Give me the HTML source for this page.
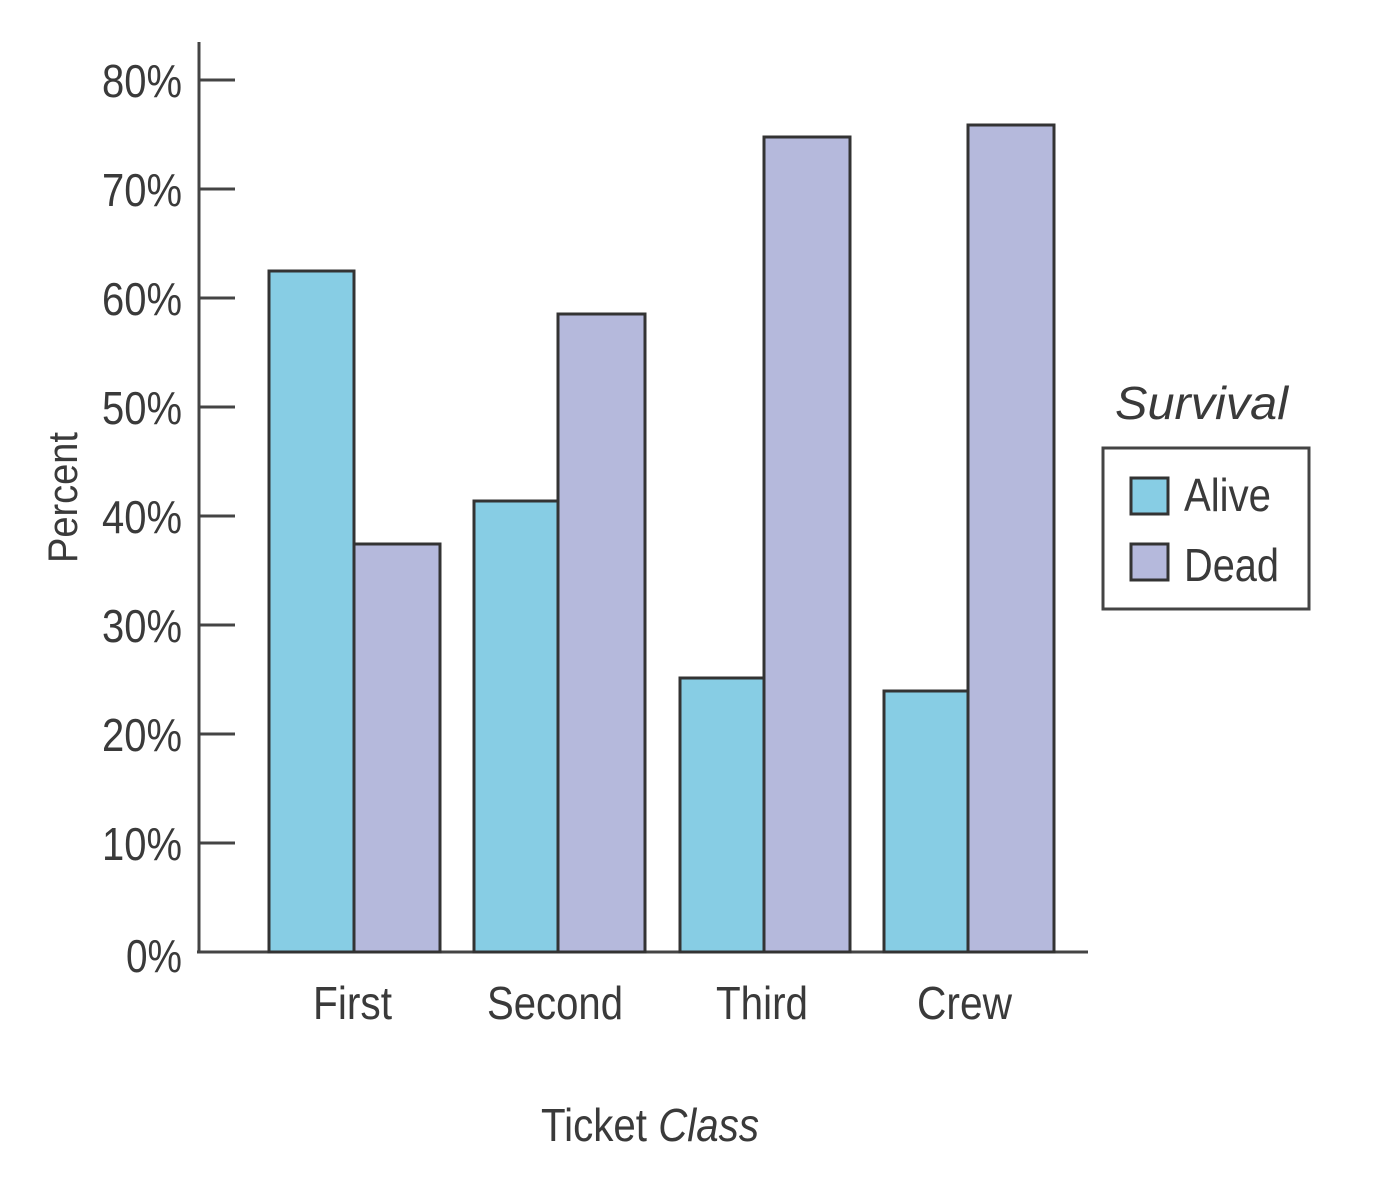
<!DOCTYPE html>
<html><head><style>body{margin:0;background:#fff}svg{display:block}</style></head><body>
<svg width="1376" height="1200" xmlns="http://www.w3.org/2000/svg" font-family="Liberation Sans, sans-serif" fill="#3a3a3a">
<g stroke="#444" stroke-width="3">
<line x1="199" y1="42" x2="199" y2="953"/>
<line x1="197" y1="952" x2="1088" y2="952"/>
<line x1="199" y1="80" x2="235" y2="80"/>
<line x1="199" y1="189" x2="235" y2="189"/>
<line x1="199" y1="298" x2="235" y2="298"/>
<line x1="199" y1="407" x2="235" y2="407"/>
<line x1="199" y1="516" x2="235" y2="516"/>
<line x1="199" y1="625" x2="235" y2="625"/>
<line x1="199" y1="734" x2="235" y2="734"/>
<line x1="199" y1="843" x2="235" y2="843"/>
</g>
<g stroke="#333" stroke-width="3">
<rect x="269" y="271" width="85" height="681" fill="#87cde4"/>
<rect x="354" y="544" width="86" height="408" fill="#b5b9dc"/>
<rect x="474" y="501" width="84" height="451" fill="#87cde4"/>
<rect x="558" y="314" width="87" height="638" fill="#b5b9dc"/>
<rect x="680" y="678" width="84" height="274" fill="#87cde4"/>
<rect x="764" y="137" width="86" height="815" fill="#b5b9dc"/>
<rect x="884" y="691" width="84" height="261" fill="#87cde4"/>
<rect x="968" y="125" width="86" height="827" fill="#b5b9dc"/>
</g>
<g font-size="46" text-anchor="end">
<text x="182" y="97" textLength="80" lengthAdjust="spacingAndGlyphs">80%</text>
<text x="182" y="206" textLength="80" lengthAdjust="spacingAndGlyphs">70%</text>
<text x="182" y="315" textLength="80" lengthAdjust="spacingAndGlyphs">60%</text>
<text x="182" y="424" textLength="80" lengthAdjust="spacingAndGlyphs">50%</text>
<text x="182" y="533" textLength="80" lengthAdjust="spacingAndGlyphs">40%</text>
<text x="182" y="642" textLength="80" lengthAdjust="spacingAndGlyphs">30%</text>
<text x="182" y="751" textLength="80" lengthAdjust="spacingAndGlyphs">20%</text>
<text x="182" y="860" textLength="80" lengthAdjust="spacingAndGlyphs">10%</text>
<text x="182" y="972" textLength="56" lengthAdjust="spacingAndGlyphs">0%</text>
</g>
<g font-size="46">
<text x="313" y="1019" textLength="79" lengthAdjust="spacingAndGlyphs">First</text>
<text x="487" y="1019" textLength="136" lengthAdjust="spacingAndGlyphs">Second</text>
<text x="716" y="1019" textLength="92" lengthAdjust="spacingAndGlyphs">Third</text>
<text x="917" y="1019" textLength="95" lengthAdjust="spacingAndGlyphs">Crew</text>
<text x="541" y="1141" textLength="218" lengthAdjust="spacingAndGlyphs">Ticket <tspan font-style="italic">Class</tspan></text>
<text x="1115" y="419" font-style="italic" textLength="173" lengthAdjust="spacingAndGlyphs">Survival</text>
</g>
<text transform="translate(77,563) rotate(-90)" font-size="42" textLength="131" lengthAdjust="spacingAndGlyphs">Percent</text>
<rect x="1103" y="448" width="206" height="161" fill="#fff" stroke="#444" stroke-width="3"/>
<rect x="1131" y="478" width="37" height="36" fill="#87cde4" stroke="#333" stroke-width="3"/>
<rect x="1131" y="544" width="37" height="36" fill="#b5b9dc" stroke="#333" stroke-width="3"/>
<g font-size="46">
<text x="1184" y="511" textLength="87" lengthAdjust="spacingAndGlyphs">Alive</text>
<text x="1184" y="581" textLength="95" lengthAdjust="spacingAndGlyphs">Dead</text>
</g>
</svg>
</body></html>
